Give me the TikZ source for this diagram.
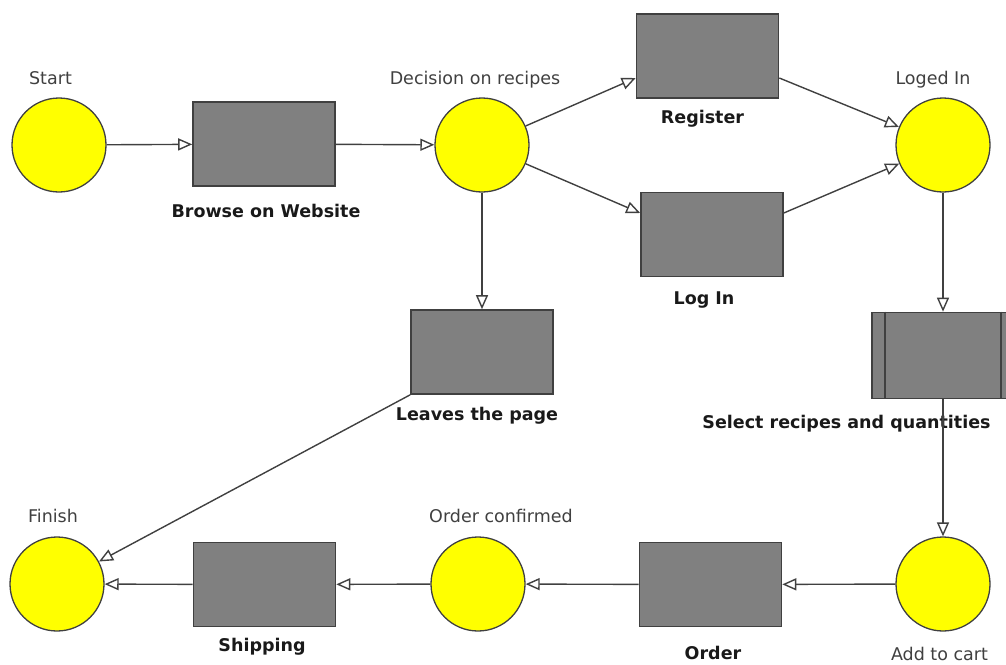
\documentclass[tikz,border=0pt]{standalone}
\usepackage{fontspec}
\setmainfont{DejaVu Sans}
\usetikzlibrary{arrows.meta}
\definecolor{lineg}{HTML}{404040}
\definecolor{boxg}{HTML}{808080}
\definecolor{txtg}{HTML}{404040}
\definecolor{stateyellow}{HTML}{FFFF00}
\tikzset{
  state/.style={circle,draw=lineg,line width=1.3pt,fill=stateyellow,minimum size=94pt,inner sep=0pt},
  task/.style={rectangle,draw=lineg,line width=1.6pt,fill=boxg,minimum width=142pt,minimum height=84pt,inner sep=0pt},
  lab/.style={anchor=base,inner sep=0pt,text=txtg,font=\fontsize{17.5}{20}\selectfont},
  blab/.style={anchor=base,inner sep=0pt,text=black!90,font=\fontsize{17.5}{20}\selectfont\bfseries},
  flow/.style={draw=lineg,line width=1.4pt,-{Triangle[length=14pt,width=12pt,fill=white]}}
}
\begin{document}
\begin{tikzpicture}[x=1pt,y=-1pt]
\useasboundingbox (0,0) rectangle (1006,664);
% states
\node[state] (start) at (59,145) {};
\node[state] (decision) at (482,145) {};
\node[state] (logged) at (943,145) {};
\node[state] (addcart) at (943,584) {};
\node[state] (confirmed) at (478,584) {};
\node[state] (finish) at (57,584) {};
% tasks
\node[task] (browse) at (264,144) {};
\node[task] (register) at (707.5,56) {};
\node[task] (login) at (712,234.5) {};
\node[task] (leaves) at (482,352) {};
\node[task,minimum height=86pt] (select) at (943,355.5) {};
\draw[lineg,line width=1.6pt] ([xshift=14pt]select.north west) -- ([xshift=14pt]select.south west);
\draw[lineg,line width=1.6pt] ([xshift=-14pt]select.north east) -- ([xshift=-14pt]select.south east);
\node[task] (order) at (710.5,584.5) {};
\node[task] (shipping) at (264.5,584.5) {};
% labels
\node[lab] (lstart) at (50.5,84) {Start};
\node[lab] (ldecision) at (475,84) {Decision on recipes};
\node[lab] (llogged) at (933,84) {Loged In};
\node[lab] (lfinish) at (53,522) {Finish};
\node[lab] (lconfirmed) at (501,522) {Order confirmed};
\node[lab] (laddcart) at (939.5,660) {Add to cart};
\node[blab] (lbrowse) at (266,217) {Browse on Website};
\node[blab] (lregister) at (702.5,123) {Register};
\node[blab] (llogin) at (704,304) {Log In};
\node[blab] (lleaves) at (477,420) {Leaves the page};
\node[blab] (lselect) at (846.5,428) {Select recipes and quantities};
\node[blab] (lorder) at (713,659) {Order};
\node[blab] (lshipping) at (262,651) {Shipping};
% connectors
\draw[flow] (start) -- (browse);
\draw[flow] (browse) -- (decision);
\draw[flow] (decision) -- ([yshift=-22pt]register.west);
\draw[flow] (decision) -- ([yshift=21.5pt]login.west);
\draw[flow] ([yshift=-22pt]register.east) -- (logged);
\draw[flow] ([yshift=21.5pt]login.east) -- (logged);
\draw[flow] (decision) -- (leaves);
\draw[flow] (logged) -- (select);
\draw[flow] (select) -- (addcart);
\draw[flow] (addcart) -- (order);
\draw[flow] (order) -- (confirmed);
\draw[flow] (confirmed) -- (shipping);
\draw[flow] (shipping) -- (finish);
\draw[flow] (leaves.south west) -- (finish);
\end{tikzpicture}
\end{document}
